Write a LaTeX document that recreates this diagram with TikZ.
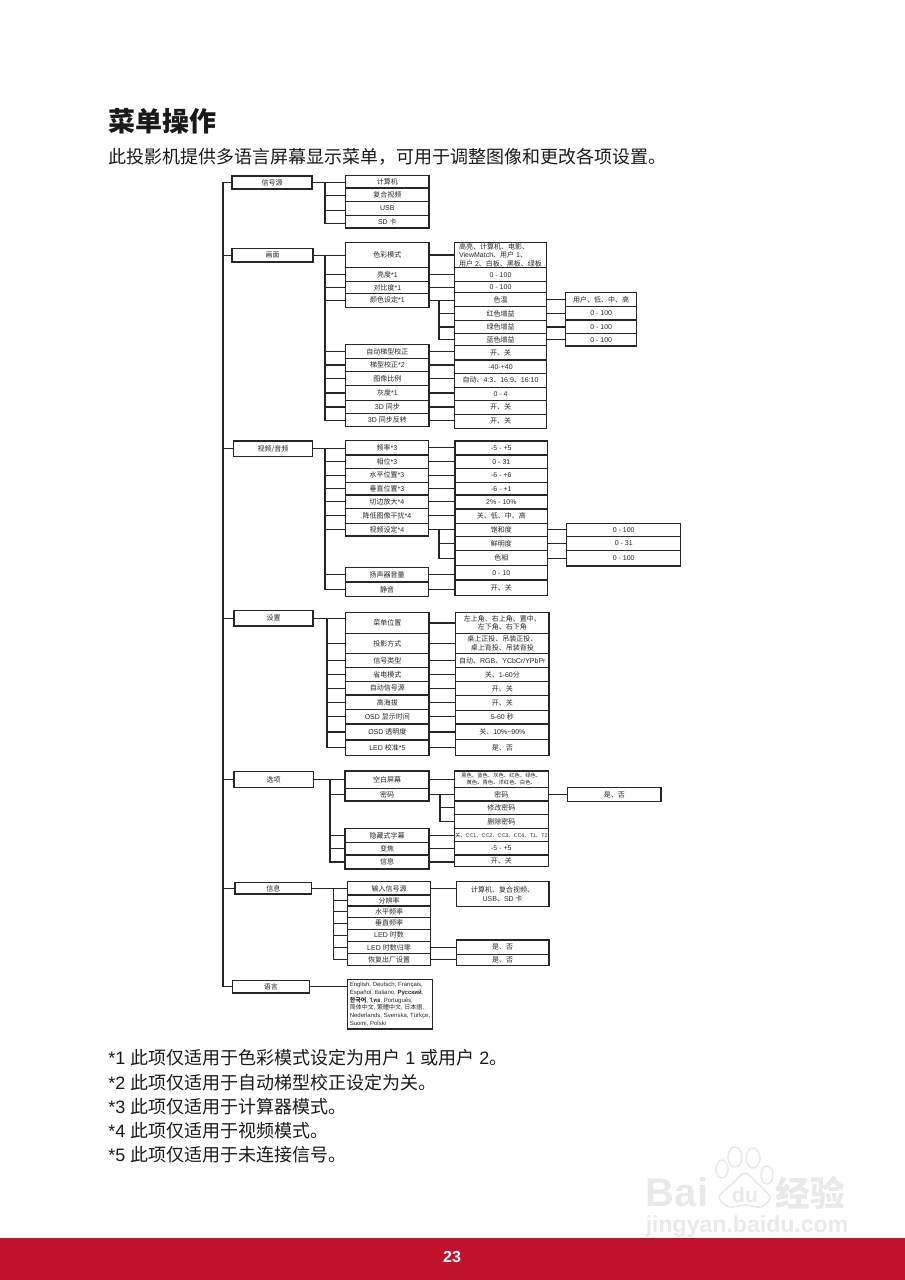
\documentclass[tikz,border=0pt]{standalone}
\usepackage{fontspec}
\usepackage{xcolor}
\setmainfont{Liberation Sans}
\newfontfamily\cjk{Noto Sans CJK SC}
\newfontfamily\cjktc{Noto Sans CJK TC}
\newfontfamily\cjkjp{Noto Sans CJK JP}
\newfontfamily\cjkkr{Noto Sans CJK KR}
\newfontfamily\thaifont[Script=Thai]{Loma}
\newcommand{\zh}[1]{{\cjk #1}}
\definecolor{barred}{HTML}{C2122B}
\definecolor{linedark}{HTML}{262626}
\definecolor{wmark}{HTML}{E9E9E9}
\tikzset{
  item/.style={draw=linedark, line width=0.8pt, anchor=north west, inner sep=0pt, outer sep=0pt,
    align=center, text=linedark, font=\fontsize{5.25}{6.3}\selectfont},
  tall/.style={minimum height=#1*0.75pt},
  wide/.style={minimum width=#1*0.75pt},
  link/.style={draw=linedark, line width=0.8pt},
  pagetext/.style={anchor=west, inner sep=0pt, text=black!90, font=\fontsize{13.5}{16}\selectfont},
  tiny/.style={font=\fontsize{4}{5.2}\selectfont},
  wm/.style={inner sep=0pt, text=wmark},
  pawline/.style={wmark, line width=1.2pt}
}
\begin{document}
\begin{tikzpicture}[x=0.75pt,y=-0.75pt]
  \useasboundingbox (0,0) rectangle (905,1280);

  % Page head
  \node[pagetext, font=\fontsize{20.25}{24}\bfseries] (title) at (108,121) {\zh{菜单操作}};
  \node[pagetext] (intro) at (108,157) {\zh{此投影机提供多语言屏幕显示菜单，可用于调整图像和更改各项设置。}};

  % Top level
  \node[item, wide=80, tall=13] (src) at (232,176) {\zh{信号源}};
  \node[item, wide=81, tall=13.3] (pic) at (232,248.7) {\zh{画面}};
  \node[item, wide=79.4, tall=15.7] (av) at (233.3,441) {\zh{视频/音频}};
  \node[item, wide=79, tall=15.3] (set) at (234,610.7) {\zh{设置}};
  \node[item, wide=79.3, tall=16] (opt) at (234,771.7) {\zh{选项}};
  \node[item, wide=76.7, tall=11.3] (info) at (235,882.7) {\zh{信息}};
  \node[item, wide=77, tall=12.7] (lang) at (232.3,980.3) {\zh{语言}};

  % Trunk
  \coordinate (trunk) at (223,600);
  \draw[link] (src.west) -| (trunk) |- (lang.west);
  \draw[link] (pic.west) -- (pic.west -| trunk);
  \draw[link] (av.west) -- (av.west -| trunk);
  \draw[link] (set.west) -- (set.west -| trunk);
  \draw[link] (opt.west) -- (opt.west -| trunk);
  \draw[link] (info.west) -- (info.west -| trunk);

  % Source
  \node[item, wide=83.3, tall=12.3] (srcPc) at (345.7,175.7) {\zh{计算机}};
  \node[item, wide=83.3, tall=13.7] (srcVid) at (345.7,188) {\zh{复合视频}};
  \node[item, wide=83.3, tall=13.6] (srcUsb) at (345.7,201.7) {USB};
  \node[item, wide=83.3, tall=12.7] (srcSd) at (345.7,215.3) {SD \zh{卡}};
  \coordinate (srcBus) at (325,200);
  \draw[link] (src.east) -- (src.east -| srcPc.west);
  \draw[link] (srcBus |- src.east) |- ([yshift=-1.7pt]srcSd.west);
  \draw[link] ([yshift=-0.8pt]srcBus |- srcVid.west) -- ([yshift=-0.8pt]srcVid.west);
  \draw[link] ([yshift=-1.6pt]srcBus |- srcUsb.west) -- ([yshift=-1.6pt]srcUsb.west);

  % Picture, first column
  \node[item, wide=83.3, tall=25.4] (picMode) at (345.7,242.3) {\zh{色彩模式}};
  \node[item, wide=83.3, tall=14] (picLum) at (345.7,267.7) {\zh{亮度}*1};
  \node[item, wide=83.3, tall=11.6] (picCon) at (345.7,281.7) {\zh{对比度}*1};
  \node[item, wide=83.3, tall=14] (picCol) at (345.7,293.3) {\zh{颜色设定}*1};
  \node[item, wide=83.3, tall=13.6] (picAuto) at (345.7,344.7) {\zh{自动梯型校正}};
  \node[item, wide=83.3, tall=13.4] (picKey) at (345.7,358.3) {\zh{梯型校正}*2};
  \node[item, wide=83.3, tall=14] (picRat) at (345.7,371.7) {\zh{图像比例}};
  \node[item, wide=83.3, tall=14.6] (picGray) at (345.7,385.7) {\zh{灰度}*1};
  \node[item, wide=83.3, tall=13.4] (picSync) at (345.7,400.3) {3D \zh{同步}};
  \node[item, wide=83.3, tall=13] (picInv) at (345.7,413.7) {3D \zh{同步反转}};

  % Picture, values
  \node[item, wide=92.4, tall=25.4, align=left] (valMode) at (454.3,242.3) {\zh{高亮、计算机、电影、}\\ViewMatch\zh{、用户} 1\zh{、}\\\zh{用户} 2\zh{、白板、黑板、绿板}};
  \node[item, wide=92.4, tall=14] (valLum) at (454.3,267.7) {0 - 100};
  \node[item, wide=92.4, tall=11] (valCon) at (454.3,281.7) {0 - 100};
  \node[item, wide=92.4, tall=14] (valTemp) at (454.3,292.7) {\zh{色温}};
  \node[item, wide=92.4, tall=14] (valRed) at (454.3,306.7) {\zh{红色增益}};
  \node[item, wide=92.4, tall=12.6] (valGrn) at (454.3,320.7) {\zh{绿色增益}};
  \node[item, wide=92.4, tall=12.4] (valBlu) at (454.3,333.3) {\zh{蓝色增益}};
  \node[item, wide=92.4, tall=14.3] (valAuto) at (454.3,345.7) {\zh{开、关}};
  \node[item, wide=92.4, tall=13.3] (valKey) at (454.3,360) {-40-+40};
  \node[item, wide=92.4, tall=14] (valRat) at (454.3,373.3) {\zh{自动、}4:3\zh{、}16:9\zh{、}16:10};
  \node[item, wide=92.4, tall=13] (valGray) at (454.3,387.3) {0 - 4};
  \node[item, wide=92.4, tall=14] (valSync) at (454.3,400.3) {\zh{开、关}};
  \node[item, wide=92.4, tall=14] (valInv) at (454.3,414.3) {\zh{开、关}};

  % Picture, colour settings
  \node[item, wide=71, tall=14] (tmpSet) at (565.7,292.7) {\zh{用户、低、中、高}};
  \node[item, wide=71, tall=13.3] (redSet) at (565.7,306.7) {0 - 100};
  \node[item, wide=71, tall=13.3] (grnSet) at (565.7,320) {0 - 100};
  \node[item, wide=71, tall=12.7] (bluSet) at (565.7,333.3) {0 - 100};

  % Picture, connectors
  \coordinate (picBus) at (325,300);
  \coordinate (colBus) at (439,320);
  \draw[link] (pic.east) -- (pic.east -| picMode.west);
  \draw[link] (picBus |- pic.east) |- (picInv.west);
  \draw[link] (picBus |- picLum.west) -- (picLum.west);
  \draw[link] (picBus |- picCon.west) -- (picCon.west);
  \draw[link] (picBus |- picCol.west) -- (picCol.west);
  \draw[link] (picBus |- picAuto.west) -- (picAuto.west);
  \draw[link] (picBus |- picKey.west) -- (picKey.west);
  \draw[link] (picBus |- picRat.west) -- (picRat.west);
  \draw[link] (picBus |- picGray.west) -- (picGray.west);
  \draw[link] (picBus |- picSync.west) -- (picSync.west);
  \draw[link] (picMode.east) -- (picMode.east -| valMode.west);
  \draw[link] (picLum.east) -- (picLum.east -| valLum.west);
  \draw[link] (picCon.east) -- (picCon.east -| valCon.west);
  \draw[link] (picCol.east) -- (picCol.east -| valTemp.west);
  \draw[link] (colBus |- picCol.east) |- (valBlu.west);
  \draw[link] (colBus |- valRed.west) -- (valRed.west);
  \draw[link] (colBus |- valGrn.west) -- (valGrn.west);
  \draw[link] (picAuto.east) -- (picAuto.east -| valAuto.west);
  \draw[link] (picKey.east) -- (picKey.east -| valKey.west);
  \draw[link] (picRat.east) -- (picRat.east -| valRat.west);
  \draw[link] (picGray.east) -- (picGray.east -| valGray.west);
  \draw[link] (picSync.east) -- (picSync.east -| valSync.west);
  \draw[link] (picInv.east) -- (picInv.east -| valInv.west);
  \draw[link] (valTemp.east) -- (valTemp.east -| tmpSet.west);
  \draw[link] (valRed.east) -- (valRed.east -| redSet.west);
  \draw[link] (valGrn.east) -- (valGrn.east -| grnSet.west);
  \draw[link] (valBlu.east) -- (valBlu.east -| bluSet.west);

  % Video and audio, first column
  \node[item, wide=82.6, tall=14.3] (avFreq) at (345.7,440.7) {\zh{频率}*3};
  \node[item, wide=82.6, tall=13.3] (avPhase) at (345.7,455) {\zh{相位}*3};
  \node[item, wide=82.6, tall=14] (avHor) at (345.7,468.3) {\zh{水平位置}*3};
  \node[item, wide=82.6, tall=12.7] (avVer) at (345.7,482.3) {\zh{垂直位置}*3};
  \node[item, wide=82.6, tall=13.3] (avCut) at (345.7,495) {\zh{切边放大}*4};
  \node[item, wide=82.6, tall=15] (avNoise) at (345.7,508.3) {\zh{降低图像干扰}*4};
  \node[item, wide=82.6, tall=12.7] (avSet) at (345.7,523.3) {\zh{视频设定}*4};
  \node[item, wide=82.6, tall=14.7] (avVol) at (345.7,567.3) {\zh{扬声器音量}};
  \node[item, wide=82.6, tall=14.7] (avMute) at (345.7,582) {\zh{静音}};

  % Video and audio, values
  \node[item, wide=92.7, tall=14] (numFreq) at (455,441) {-5 - +5};
  \node[item, wide=92.7, tall=13.3] (numPhase) at (455,455) {0 - 31};
  \node[item, wide=92.7, tall=14] (numHor) at (455,468.3) {-6 - +6};
  \node[item, wide=92.7, tall=12.7] (numVer) at (455,482.3) {-6 - +1};
  \node[item, wide=92.7, tall=14] (numCut) at (455,495) {2\% - 10\%};
  \node[item, wide=92.7, tall=14.3] (numNoise) at (455,509) {\zh{关、低、中、高}};
  \node[item, wide=92.7, tall=13] (numSat) at (455,523.3) {\zh{饱和度}};
  \node[item, wide=92.7, tall=14.4] (numSharp) at (455,536.3) {\zh{鲜明度}};
  \node[item, wide=92.7, tall=15] (numHue) at (455,550.7) {\zh{色相}};
  \node[item, wide=92.7, tall=14.3] (numVol) at (455,565.7) {0 - 10};
  \node[item, wide=92.7, tall=15.7] (numMute) at (455,580) {\zh{开、关}};

  % Video and audio, video settings
  \node[item, wide=114, tall=13] (satSet) at (566.7,523.3) {0 - 100};
  \node[item, wide=114, tall=14.4] (shpSet) at (566.7,536.3) {0 - 31};
  \node[item, wide=114, tall=15.3] (hueSet) at (566.7,550.7) {0 - 100};

  % Video and audio, connectors
  \coordinate (avBus) at (325,500);
  \coordinate (vidBus) at (439,540);
  \draw[link] (av.east) -- (av.east -| avFreq.west);
  \draw[link] (avBus |- av.east) |- (avMute.west);
  \draw[link] (avBus |- avPhase.west) -- (avPhase.west);
  \draw[link] (avBus |- avHor.west) -- (avHor.west);
  \draw[link] (avBus |- avVer.west) -- (avVer.west);
  \draw[link] (avBus |- avCut.west) -- (avCut.west);
  \draw[link] (avBus |- avNoise.west) -- (avNoise.west);
  \draw[link] (avBus |- avSet.west) -- (avSet.west);
  \draw[link] (avBus |- avVol.west) -- (avVol.west);
  \draw[link] (avFreq.east) -- (avFreq.east -| numFreq.west);
  \draw[link] (avPhase.east) -- (avPhase.east -| numPhase.west);
  \draw[link] (avHor.east) -- (avHor.east -| numHor.west);
  \draw[link] (avVer.east) -- (avVer.east -| numVer.west);
  \draw[link] (avCut.east) -- (avCut.east -| numCut.west);
  \draw[link] (avNoise.east) -- (avNoise.east -| numNoise.west);
  \draw[link] (avSet.east) -- (avSet.east -| numSat.west);
  \draw[link] (vidBus |- avSet.east) |- (numHue.west);
  \draw[link] (vidBus |- numSharp.west) -- (numSharp.west);
  \draw[link] (avVol.east) -- (avVol.east -| numVol.west);
  \draw[link] (avMute.east) -- (avMute.east -| numMute.west);
  \draw[link] (numSat.east) -- (numSat.east -| satSet.west);
  \draw[link] (numSharp.east) -- (numSharp.east -| shpSet.west);
  \draw[link] (numHue.east) -- (numHue.east -| hueSet.west);

  % Settings, first column
  \node[item, wide=83.3, tall=20.6] (setMenu) at (345.7,612.7) {\zh{菜单位置}};
  \node[item, wide=83.3, tall=20.4] (setProj) at (345.7,633.3) {\zh{投影方式}};
  \node[item, wide=83.3, tall=14] (setType) at (345.7,653.7) {\zh{信号类型}};
  \node[item, wide=83.3, tall=13.6] (setEco) at (345.7,667.7) {\zh{省电模式}};
  \node[item, wide=83.3, tall=13.7] (setFind) at (345.7,681.3) {\zh{自动信号源}};
  \node[item, wide=83.3, tall=14.7] (setAlt) at (345.7,695) {\zh{高海拔}};
  \node[item, wide=83.3, tall=14.3] (setTime) at (345.7,709.7) {OSD \zh{显示时间}};
  \node[item, wide=83.3, tall=16] (setTrans) at (345.7,724) {OSD \zh{透明度}};
  \node[item, wide=83.3, tall=15.3] (setLed) at (345.7,740) {LED \zh{校准}*5};

  % Settings, values
  \node[item, wide=93.3, tall=20.6] (cfgMenu) at (455.7,612.7) {\zh{左上角、右上角、置中、}\\\zh{左下角、右下角}};
  \node[item, wide=93.3, tall=20.4] (cfgProj) at (455.7,633.3) {\zh{桌上正投、吊装正投、}\\\zh{桌上背投、吊装背投}};
  \node[item, wide=93.3, tall=14] (cfgType) at (455.7,653.7) {\zh{自动、}RGB\zh{、}YCbCr/YPbPr};
  \node[item, wide=93.3, tall=13.6] (cfgEco) at (455.7,667.7) {\zh{关、}1-60\zh{分}};
  \node[item, wide=93.3, tall=14.4] (cfgFind) at (455.7,681.3) {\zh{开、关}};
  \node[item, wide=93.3, tall=14.6] (cfgAlt) at (455.7,695.7) {\zh{开、关}};
  \node[item, wide=93.3, tall=13.7] (cfgTime) at (455.7,710.3) {5-60 \zh{秒}};
  \node[item, wide=93.3, tall=15.7] (cfgTrans) at (455.7,724) {\zh{关、}10\%\textasciitilde 90\%};
  \node[item, wide=93.3, tall=15.6] (cfgLed) at (455.7,739.7) {\zh{是、否}};

  % Settings, connectors
  \coordinate (setBus) at (327,680);
  \draw[link] (set.east) -- (set.east -| setMenu.west);
  \draw[link] (setBus |- set.east) |- (setLed.west);
  \draw[link] (setBus |- setProj.west) -- (setProj.west);
  \draw[link] (setBus |- setType.west) -- (setType.west);
  \draw[link] (setBus |- setEco.west) -- (setEco.west);
  \draw[link] (setBus |- setFind.west) -- (setFind.west);
  \draw[link] (setBus |- setAlt.west) -- (setAlt.west);
  \draw[link] (setBus |- setTime.west) -- (setTime.west);
  \draw[link] (setBus |- setTrans.west) -- (setTrans.west);
  \draw[link] (setMenu.east) -- (setMenu.east -| cfgMenu.west);
  \draw[link] (setProj.east) -- (setProj.east -| cfgProj.west);
  \draw[link] (setType.east) -- (setType.east -| cfgType.west);
  \draw[link] (setEco.east) -- (setEco.east -| cfgEco.west);
  \draw[link] (setFind.east) -- (setFind.east -| cfgFind.west);
  \draw[link] (setAlt.east) -- (setAlt.east -| cfgAlt.west);
  \draw[link] (setTime.east) -- (setTime.east -| cfgTime.west);
  \draw[link] (setTrans.east) -- (setTrans.east -| cfgTrans.west);
  \draw[link] (setLed.east) -- (setLed.east -| cfgLed.west);

  % Options
  \node[item, wide=84, tall=17.3] (optBlank) at (345,771) {\zh{空白屏幕}};
  \node[item, wide=84, tall=12.7] (optPass) at (345,788.3) {\zh{密码}};
  \node[item, wide=84, tall=14.4] (optCap) at (345,828.3) {\zh{隐藏式字幕}};
  \node[item, wide=84, tall=12.3] (optFocus) at (345,842.7) {\zh{变焦}};
  \node[item, wide=84, tall=14] (optMsg) at (345,855) {\zh{信息}};
  \node[item, tiny, wide=94, tall=16.7] (selBlank) at (454.3,771) {\zh{黑色、蓝色、灰色、红色、绿色、}\\\zh{黄色、青色、洋红色、白色、}};
  \node[item, wide=94, tall=13.3] (selPass) at (454.3,787.7) {\zh{密码}};
  \node[item, wide=94, tall=13.3] (selEdit) at (454.3,801) {\zh{修改密码}};
  \node[item, wide=94, tall=14] (selDel) at (454.3,814.3) {\zh{删除密码}};
  \node[item, tiny, wide=94, tall=13.4] (selCap) at (454.3,828.3) {\zh{关、}CC1\zh{、}CC2\zh{、}CC3\zh{、}CC4\zh{、}T1\zh{、}T2};
  \node[item, wide=94, tall=13.3] (selFocus) at (454.3,841.7) {-5 - +5};
  \node[item, wide=94, tall=11.7] (selMsg) at (454.3,855) {\zh{开、关}};
  \node[item, wide=93.3, tall=14] (passYes) at (567.7,787.7) {\zh{是、否}};
  \coordinate (optBus) at (330,820);
  \coordinate (passBus) at (440,810);
  \draw[link] (opt.east) -- (opt.east -| optBlank.west);
  \draw[link] (optBus |- opt.east) |- (optMsg.west);
  \draw[link] (optBus |- optPass.west) -- (optPass.west);
  \draw[link] (optBus |- optCap.west) -- (optCap.west);
  \draw[link] (optBus |- optFocus.west) -- (optFocus.west);
  \draw[link] (optBlank.east) -- (optBlank.east -| selBlank.west);
  \draw[link] (optPass.east) -- (optPass.east -| selPass.west);
  \draw[link] (passBus |- optPass.east) |- (selDel.west);
  \draw[link] (passBus |- selEdit.west) -- (selEdit.west);
  \draw[link] (optCap.east) -- (optCap.east -| selCap.west);
  \draw[link] (optFocus.east) -- (optFocus.east -| selFocus.west);
  \draw[link] (optMsg.east) -- (optMsg.east -| selMsg.west);
  \draw[link] (selPass.east) -- (selPass.east -| passYes.west);

  % Information
  \node[item, wide=83.4, tall=13.3] (infSrc) at (347.3,881.7) {\zh{输入信号源}};
  \node[item, wide=83.4, tall=11] (infRes) at (347.3,895) {\zh{分辨率}};
  \node[item, wide=83.4, tall=11.3] (infHor) at (347.3,906) {\zh{水平频率}};
  \node[item, wide=83.4, tall=12] (infVer) at (347.3,917.3) {\zh{垂直频率}};
  \node[item, wide=83.4, tall=12] (infLed) at (347.3,929.3) {LED \zh{时数}};
  \node[item, wide=83.4, tall=12.4] (infZero) at (347.3,941.3) {LED \zh{时数归零}};
  \node[item, wide=83.4, tall=12] (infReset) at (347.3,953.7) {\zh{恢复出厂设置}};
  \node[item, wide=92.7, tall=25] (ansSrc) at (456.3,881.7) {\zh{计算机、复合视频、}\\USB\zh{、}SD \zh{卡}};
  \node[item, wide=92.7, tall=14.3] (ansZero) at (456.3,940) {\zh{是、否}};
  \node[item, wide=92.7, tall=11.4] (ansReset) at (456.3,954.3) {\zh{是、否}};
  \coordinate (infBus) at (333.3,920);
  \draw[link] (info.east) -- (info.east -| infSrc.west);
  \draw[link] (infBus |- info.east) |- (infReset.west);
  \draw[link] (infBus |- infRes.west) -- (infRes.west);
  \draw[link] (infBus |- infHor.west) -- (infHor.west);
  \draw[link] (infBus |- infVer.west) -- (infVer.west);
  \draw[link] (infBus |- infLed.west) -- (infLed.west);
  \draw[link] (infBus |- infZero.west) -- (infZero.west);
  \draw[link] (infSrc.east) -- (infSrc.east -| ansSrc.west);
  \draw[link] (infZero.east) -- (infZero.east -| ansZero.west);
  \draw[link] (infReset.east) -- (infReset.east -| ansReset.west);

  % Language
  \node[item, wide=85.4, tall=49.7, align=left, font=\fontsize{4.5}{5.8}\selectfont] (langs) at (347.3,979.3)
    {English, Deutsch, Français,\\Español, Italiano, \textbf{Русский},\\{\cjkkr\bfseries 한국어}, {\thaifont\bfseries ไทย}, Português,\\\zh{简体中文}, {\cjktc 繁體中文}, {\cjkjp 日本語},\\Nederlands, Svenska, Türkçe,\\Suomi, Polski};
  \draw[link] (lang.east) -- (lang.east -| langs.west);

  % Footnotes
  \node[pagetext] (noteA) at (108,1058) {*1 \zh{此项仅适用于色彩模式设定为用户} 1 \zh{或用户} 2\zh{。}};
  \node[pagetext] (noteB) at (108,1083) {*2 \zh{此项仅适用于自动梯型校正设定为关。}};
  \node[pagetext] (noteC) at (108,1107) {*3 \zh{此项仅适用于计算器模式。}};
  \node[pagetext] (noteD) at (108,1131) {*4 \zh{此项仅适用于视频模式。}};
  \node[pagetext] (noteE) at (108,1155) {*5 \zh{此项仅适用于未连接信号。}};

  % Footer
  \fill[barred] (0,1238) rectangle (905,1280);
  \node[inner sep=0pt, text=white, font=\fontsize{12}{14}\bfseries] (pageNo) at (452,1257) {23};

  % Watermark
  \node[wm, font=\fontsize{30}{30}\bfseries] (wmBai) at (677,1192) {Bai};
  \draw[pawline] (735,1157) ellipse (7 and 10);
  \draw[pawline] (753,1158) ellipse (7 and 10);
  \draw[pawline] (722,1169) ellipse (6 and 9);
  \draw[pawline] (767,1175) ellipse (6 and 9);
  \draw[pawline] plot[smooth cycle] coordinates {(745,1173) (758,1184) (770,1197) (761,1207) (745,1205) (729,1207) (719,1197) (732,1184)};
  \node[wm, font=\fontsize{16}{16}\bfseries] (wmDu) at (745,1195) {du};
  \node[wm, font=\fontsize{26}{26}\bfseries] (wmCn) at (810,1193) {\zh{经验}};
  \node[wm, font=\fontsize{17.3}{17.3}\bfseries] (wmUrl) at (747,1227) {jingyan.baidu.com};
\end{tikzpicture}
\end{document}
